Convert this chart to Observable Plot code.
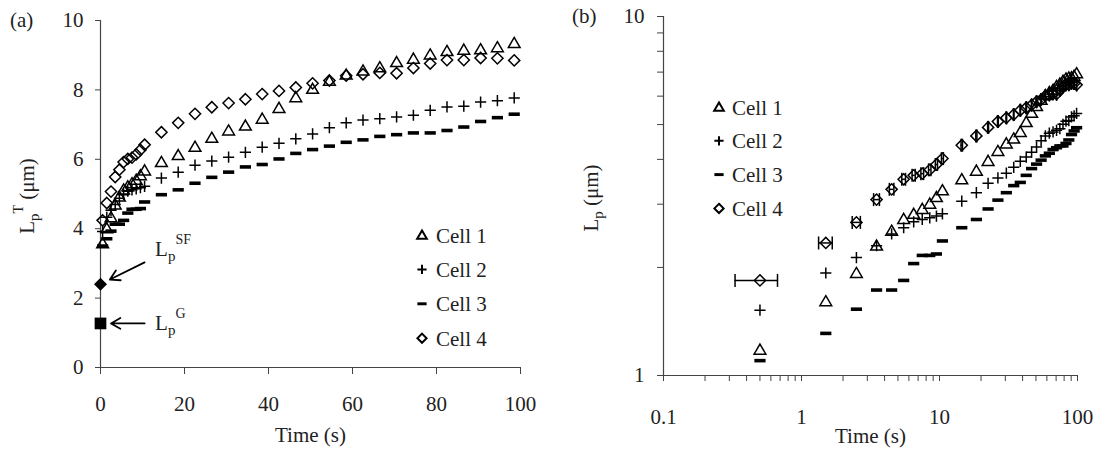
<!DOCTYPE html>
<html>
<head>
<meta charset="utf-8">
<script src="https://cdn.jsdelivr.net/npm/d3@7"></script>
<script src="https://cdn.jsdelivr.net/npm/@observablehq/plot@0.6"></script>
<style>
  body { margin: 0; background: #fff; }
  #wrap { position: relative; width: 1103px; height: 466px; font-family: "Liberation Serif", serif; }
  #wrap svg { position: absolute; top: 0; overflow: visible; }
  #wrap svg text { font-family: "Liberation Serif", "Times New Roman", serif; }
</style>
</head>
<body>
<div id="wrap"></div>
<script>
// ---------- data ----------
const times = [0.5,1.5,2.5,3.5,4.5,5.5,6.5,7.5,8.5,9.5,10.5,14.5,18.5,22.5,26.5,30.5,34.5,38.5,42.5,46.5,50.5,54.5,58.5,62.5,66.5,70.5,74.5,78.5,82.5,86.5,90.5,94.5,98.5];

// panel (a): total length L_p^T (µm)
const cell1Total = [3.58,4.01,4.33,4.70,4.93,5.13,5.22,5.31,5.41,5.54,5.68,5.92,6.12,6.36,6.62,6.83,6.97,7.17,7.48,7.79,8.03,8.26,8.44,8.56,8.65,8.80,8.90,9.02,9.12,9.16,9.17,9.23,9.35];
const cell2Total = [3.92,4.33,4.53,4.70,4.88,4.98,5.08,5.12,5.15,5.18,5.22,5.46,5.63,5.83,5.95,6.06,6.20,6.35,6.46,6.59,6.73,6.91,7.05,7.13,7.17,7.22,7.27,7.41,7.51,7.53,7.65,7.69,7.77];
const cell3Total = [3.50,3.71,3.93,4.13,4.13,4.24,4.45,4.56,4.56,4.58,4.77,4.98,5.12,5.31,5.48,5.63,5.78,5.85,6.01,6.17,6.28,6.38,6.49,6.56,6.66,6.71,6.76,6.76,6.83,6.93,7.09,7.20,7.30];
const cell4Total = [4.24,4.74,5.07,5.49,5.70,5.92,6.01,6.05,6.14,6.27,6.42,6.78,7.05,7.31,7.50,7.62,7.73,7.88,7.97,8.07,8.19,8.27,8.41,8.45,8.49,8.48,8.63,8.76,8.86,8.86,8.92,8.91,8.85];

// panel (b): L_p (µm), log-log
const cell1Net = [1.18,1.61,1.93,2.30,2.53,2.73,2.82,2.91,3.01,3.14,3.28,3.52,3.72,3.96,4.22,4.43,4.57,4.77,5.08,5.39,5.63,5.86,6.04,6.16,6.25,6.40,6.50,6.62,6.72,6.76,6.77,6.83,6.95];
const cell2Net = [1.52,1.93,2.13,2.30,2.48,2.58,2.68,2.72,2.75,2.78,2.82,3.06,3.23,3.43,3.55,3.66,3.80,3.95,4.06,4.19,4.33,4.51,4.65,4.73,4.77,4.82,4.87,5.01,5.11,5.13,5.25,5.29,5.37];
const cell3Net = [1.10,1.31,1.53,1.73,1.73,1.84,2.05,2.16,2.16,2.18,2.37,2.58,2.72,2.91,3.08,3.23,3.38,3.45,3.61,3.77,3.88,3.98,4.09,4.16,4.26,4.31,4.36,4.36,4.43,4.53,4.69,4.80,4.90];
const cell4Net = [1.84,2.34,2.67,3.09,3.30,3.52,3.61,3.65,3.74,3.87,4.02,4.38,4.65,4.91,5.10,5.22,5.33,5.48,5.57,5.67,5.79,5.87,6.01,6.05,6.09,6.08,6.23,6.36,6.46,6.46,6.52,6.51,6.45];
const cell4TimeError = 0.17;

const cellNames = ["Cell 1", "Cell 2", "Cell 3", "Cell 4"];

// reference lengths at t = 0 (panel a)
const refNames = ["SF", "G"];
const refValues = [2.4, 1.27];
const refArrowTailT = [10.5, 10.5];
const refArrowTailV = [3.03, 1.27];

// ticks
const xTicksA = [0, 20, 40, 60, 80, 100];
const yTicksA = [0, 2, 4, 6, 8, 10];
const xTicksB = [0.1,0.2,0.3,0.4,0.5,0.6,0.7,0.8,0.9,1,2,3,4,5,6,7,8,9,10,20,30,40,50,60,70,80,90,100];
const xLabelsB = [0.1, 1, 10, 100];
const yTicksB = [1,2,3,4,5,6,7,8,9,10];
const yLabelsB = [1, 10];

// ---------- symbols ----------
const rOf = s => Math.sqrt(s / Math.PI);
const symTriangle = {draw(c, s) { const r = rOf(s); c.moveTo(0, -r); c.lineTo(r * 1.05, r * 0.8); c.lineTo(-r * 1.05, r * 0.8); c.closePath(); }};
const symPlus = {draw(c, s) { const r = rOf(s); c.moveTo(-r, 0); c.lineTo(r, 0); c.moveTo(0, -r); c.lineTo(0, r); }};
const symMinus = {draw(c, s) { const r = rOf(s); c.rect(-r, -r * 0.32, 2 * r, r * 0.64); }};
const symDiamond = {draw(c, s) { const r = rOf(s); c.moveTo(0, -r); c.lineTo(r, 0); c.lineTo(0, r); c.lineTo(-r, 0); c.closePath(); }};
const symSquare = {draw(c, s) { const r = rOf(s) * 0.9; c.rect(-r, -r, 2 * r, 2 * r); }};
const symCap = {draw(c, s) { const r = rOf(s); c.moveTo(0, -r); c.lineTo(0, r); }};

const series = [
  {name: cellNames[0], total: cell1Total, net: cell1Net, symbol: symTriangle, filled: false},
  {name: cellNames[1], total: cell2Total, net: cell2Net, symbol: symPlus, filled: false},
  {name: cellNames[2], total: cell3Total, net: cell3Net, symbol: symMinus, filled: true},
  {name: cellNames[3], total: cell4Total, net: cell4Net, symbol: symDiamond, filled: false}
];

const FONT = '"Liberation Serif", "Times New Roman", serif';
const INK = "#000";
const AXIS = "#444";

function dotMarks(key) {
  return series.map(s => Plot.dot(times.map((t, i) => ({t, v: s[key][i]})), {
    x: "t", y: "v", symbol: s.symbol, r: 5.6,
    fill: s.filled ? INK : "none",
    stroke: s.filled ? "none" : INK,
    strokeWidth: 1.5
  }));
}

// ---------- panel (a) ----------
const refRows = refNames.map((n, i) => ({name: n, t: 0, v: refValues[i], tt: refArrowTailT[i], tv: refArrowTailV[i]}));

const A = Plot.plot({
  width: 551, height: 466,
  marginLeft: 100, marginRight: 31, marginTop: 20, marginBottom: 99,
  style: {fontFamily: FONT, fontSize: "21px", color: "#222", overflow: "visible", background: "transparent"},
  x: {domain: [0, 100]},
  y: {domain: [0, 10]},
  marks: [
    Plot.axisY({ticks: yTicksA, tickSize: 5, tickPadding: 12, label: null, fontSize: 21, stroke: AXIS}),
    Plot.axisX({ticks: xTicksA, tickSize: 7, tickPadding: 22, label: null, fontSize: 21, stroke: AXIS}),
    Plot.ruleX([0], {stroke: AXIS, strokeWidth: 1.2}),
    Plot.ruleY([0], {stroke: AXIS, strokeWidth: 1.2}),
    ...dotMarks("total"),
    Plot.dot(refRows.filter(d => d.name === "SF"), {x: "t", y: "v", symbol: symDiamond, r: 6.5, fill: INK, stroke: "none"}),
    Plot.dot(refRows.filter(d => d.name === "G"), {x: "t", y: "v", symbol: symSquare, r: 6.5, fill: INK, stroke: "none"}),
    Plot.arrow(refRows, {x1: "tt", y1: "tv", x2: "t", y2: "v", insetEnd: 10.5, headLength: 9, strokeWidth: 1.8, stroke: INK}),
    Plot.text(["Time (s)"], {frameAnchor: "bottom", dy: 74, fontSize: 21, fill: "#222"})
  ]
});
A.style.left = "0px";

// ---------- panel (b) ----------
const errRows = times.map((t, i) => ({t, v: cell4Net[i], lo: t - cell4TimeError, hi: t + cell4TimeError}));

const B = Plot.plot({
  width: 552, height: 466,
  marginLeft: 112, marginRight: 26, marginTop: 16, marginBottom: 91,
  style: {fontFamily: FONT, fontSize: "21px", color: "#222", overflow: "visible", background: "transparent"},
  x: {type: "log", domain: [0.1, 100]},
  y: {type: "log", domain: [1, 10]},
  marks: [
    Plot.axisY({ticks: yTicksB, tickFormat: d => yLabelsB.includes(d) ? String(d) : "", tickSize: 6, tickPadding: 13, label: null, fontSize: 21, stroke: AXIS}),
    Plot.axisX({ticks: xTicksB, tickFormat: d => xLabelsB.includes(d) ? String(d) : "", tickSize: 6, tickPadding: 28, label: null, fontSize: 21, stroke: AXIS}),
    Plot.ruleX([0.1], {stroke: AXIS, strokeWidth: 1.2}),
    Plot.ruleY([1], {stroke: AXIS, strokeWidth: 1.2}),
    Plot.ruleY(errRows, {y: "v", x1: "lo", x2: "hi", stroke: INK, strokeWidth: 1.5}),
    Plot.dot(errRows, {x: "lo", y: "v", symbol: symCap, r: 6.5, stroke: INK, fill: "none", strokeWidth: 1.5}),
    Plot.dot(errRows, {x: "hi", y: "v", symbol: symCap, r: 6.5, stroke: INK, fill: "none", strokeWidth: 1.5}),
    ...dotMarks("net"),
    Plot.text(["Time (s)"], {frameAnchor: "bottom", dy: 67, fontSize: 21, fill: "#222"})
  ]
});
B.style.left = "551px";

const wrap = document.getElementById("wrap");
wrap.appendChild(A);
wrap.appendChild(B);

// ---------- text helpers (sub/superscripts) ----------
function richText(svg, x, y, parts, opts = {}) {
  const t = d3.select(svg).append("text")
    .attr("x", x).attr("y", y)
    .style("font-family", FONT)
    .attr("font-size", 21)
    .attr("fill", "#222")
    .attr("text-anchor", opts.anchor || "start");
  if (opts.rotate) t.attr("transform", `rotate(${opts.rotate},${x},${y})`);
  parts.forEach(p => {
    const s = t.append("tspan").text(p.text);
    if (p.dy) s.attr("dy", p.dy);
    if (p.size) s.attr("font-size", p.size);
  });
  return t;
}

// y-axis titles
richText(A, 34, 196, [
  {text: "L"}, {text: "p", dy: 5, size: 15}, {text: "T", dy: -16, size: 14}, {text: " (μm)", dy: 11}
], {anchor: "middle", rotate: -90});
richText(B, 47, 198, [
  {text: "L"}, {text: "p", dy: 5, size: 15}, {text: " (μm)", dy: -5}
], {anchor: "middle", rotate: -90});

// panel letters
richText(A, 10, 27, [{text: "(a)"}]);
richText(B, 21, 23, [{text: "(b)"}]);

// reference annotations, placed with panel (a)'s scales
const sxA = A.scale("x"), syA = A.scale("y");
refRows.forEach(d => {
  const lx = sxA.apply(d.tt) + 11;
  const ly = syA.apply(d.tv) - 6 + (d.name === "G" ? 13 : 0);
  richText(A, lx, ly, [{text: "L"}, {text: "p", dy: 5, size: 15}, {text: d.name, dy: -17, size: 14}]);
});

// legends
function legend(svg, x0, y0, step, textX) {
  const g = d3.select(svg).append("g").attr("text-anchor", "start").style("font-family", FONT);
  series.forEach((s, i) => {
    const y = y0 + i * step;
    g.append("path")
      .attr("transform", `translate(${x0},${y})`)
      .attr("d", d3.symbol(s.symbol, Math.PI * 4.6 * 4.6)())
      .attr("fill", s.filled ? INK : "none")
      .attr("stroke", s.filled ? "none" : INK)
      .attr("stroke-width", 2);
    g.append("text")
      .attr("x", textX).attr("y", y).attr("dy", "0.36em")
      .attr("text-anchor", "start")
      .style("font-family", FONT).attr("font-size", 21).attr("fill", "#222")
      .text(s.name);
  });
}
legend(A, 422, 235, 34.4, 436);
legend(B, 168, 107, 33.8, 181);
</script>
</body>
</html>
